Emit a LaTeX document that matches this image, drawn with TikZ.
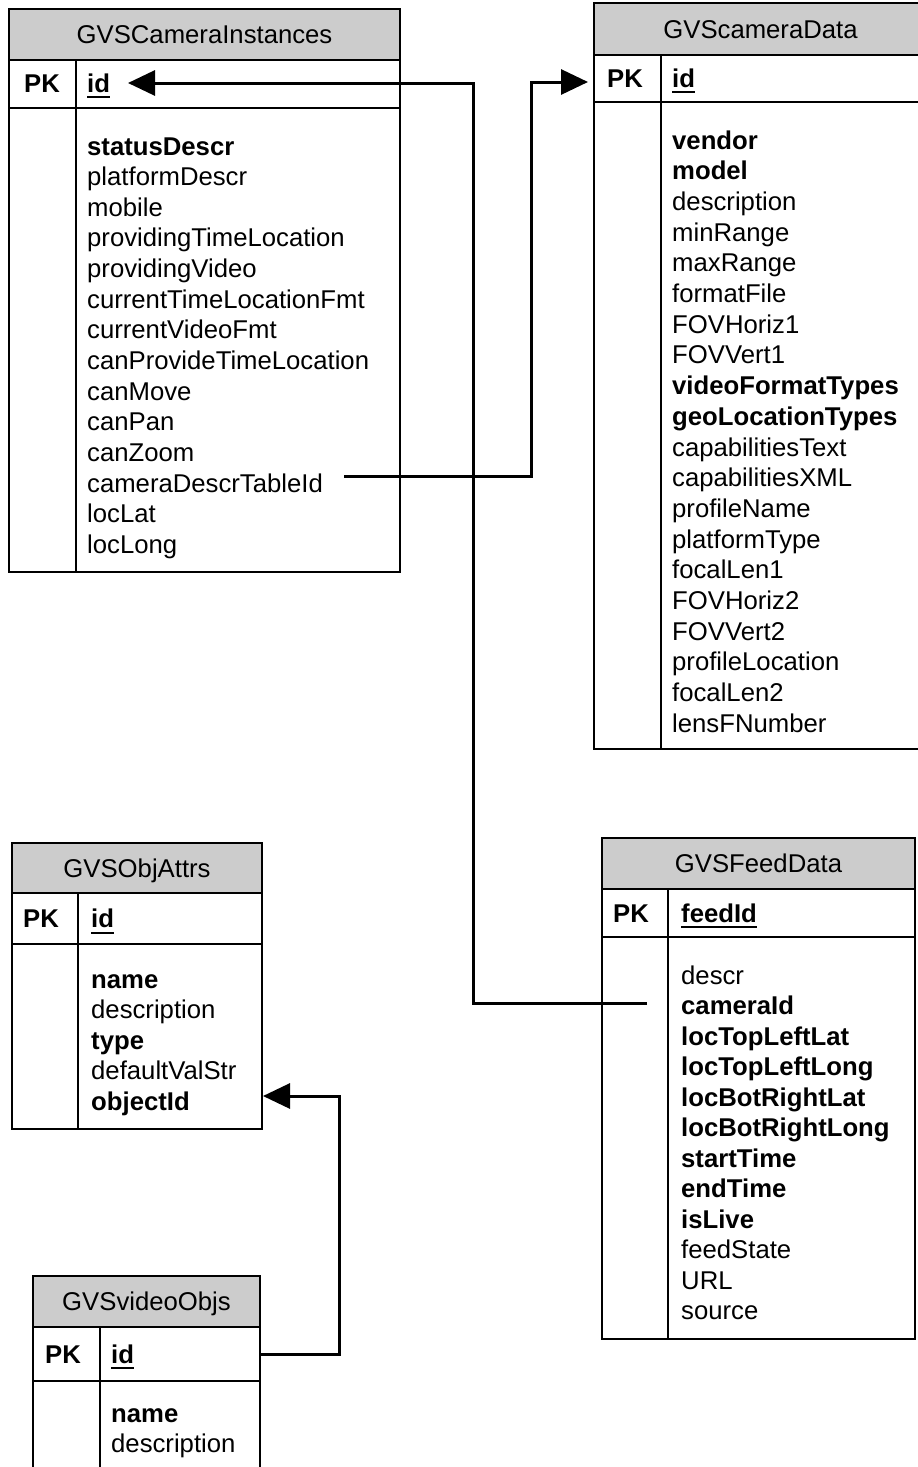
\documentclass[tikz,border=0pt]{standalone}
\usepackage{fontspec}
\setmainfont{Liberation Sans}
\usetikzlibrary{arrows.meta}
\definecolor{hdrgray}{RGB}{204,204,204}
\newcommand\ulkey[1]{\setbox0\hbox{\bfseries #1}\rlap{\rule[-6pt]{\wd0}{2pt}}\box0}
\begin{document}
\begin{tikzpicture}[x=1pt,y=-1pt,
  tbl/.style={draw=black,line width=1.5pt},
  hdr/.style={draw=black,line width=1.5pt,fill=hdrgray,inner sep=0pt,text height=18.5pt,text depth=0pt,font=\fontsize{25.7}{30}\selectfont},
  txt/.style={anchor=base west,inner sep=0pt,font=\fontsize{25.7}{30}\selectfont},
  conn/.style={draw=black,line width=3pt},
  tipped/.style={-{Triangle[length=27pt,width=25pt]}}]
\useasboundingbox (0,0) rectangle (918,1467);
\fill[white] (0,0) rectangle (918,1467);

% ---------- GVSCameraInstances ----------
\node[hdr,minimum width=391pt,minimum height=51pt] (ciH) at (204.5,34.5) {GVSCameraInstances};
\draw[tbl] (9,60) rectangle (400,572);
\draw[tbl] (9,108) -- (400,108);
\draw[tbl] (76,60) -- (76,572);
\node[txt] (ciPK) at (24,92) {\bfseries PK};
\node[txt] (ciId) at (87,92) {\ulkey{id}};
\foreach \t [count=\i from 0] in {\textbf{statusDescr},platformDescr,mobile,providingTimeLocation,providingVideo,currentTimeLocationFmt,currentVideoFmt,canProvideTimeLocation,canMove,canPan,canZoom,cameraDescrTableId,locLat,locLong}
  \node[txt] (ci\i) at (87,{155+\i*30.65}) {\t};

% ---------- GVScameraData ----------
\node[hdr,minimum width=333pt,minimum height=52pt] (cdH) at (760.5,29) {GVScameraData};
\draw[tbl] (594,55) rectangle (927,749);
\draw[tbl] (594,102) -- (927,102);
\draw[tbl] (661,55) -- (661,749);
\node[txt] (cdPK) at (607,87) {\bfseries PK};
\node[txt] (cdId) at (672,87) {\ulkey{id}};
\foreach \t [count=\i from 0] in {\textbf{vendor},\textbf{model},description,minRange,maxRange,formatFile,FOVHoriz1,FOVVert1,\textbf{videoFormatTypes},\textbf{geoLocationTypes},capabilitiesText,capabilitiesXML,profileName,platformType,focalLen1,FOVHoriz2,FOVVert2,profileLocation,focalLen2,lensFNumber}
  \node[txt] (cd\i) at (672,{149+\i*30.7}) {\t};

% ---------- GVSObjAttrs ----------
\node[hdr,minimum width=250pt,minimum height=50pt] (oaH) at (137,868) {GVSObjAttrs};
\draw[tbl] (12,893) rectangle (262,1129);
\draw[tbl] (12,944) -- (262,944);
\draw[tbl] (78,893) -- (78,1129);
\node[txt] (oaPK) at (23,927.5) {\bfseries PK};
\node[txt] (oaId) at (91,927.5) {\ulkey{id}};
\foreach \t [count=\i from 0] in {\textbf{name},description,\textbf{type},defaultValStr,\textbf{objectId}}
  \node[txt] (oa\i) at (91,{988+\i*30.5}) {\t};

% ---------- GVSvideoObjs ----------
\node[hdr,minimum width=227pt,minimum height=51pt] (voH) at (146.5,1301.5) {GVSvideoObjs};
\draw[tbl] (33,1327) -- (260,1327);
\draw[tbl] (33,1381) -- (260,1381);
\draw[tbl] (33,1327) -- (33,1480);
\draw[tbl] (260,1327) -- (260,1480);
\draw[tbl] (100,1327) -- (100,1480);
\node[txt] (voPK) at (45,1363) {\bfseries PK};
\node[txt] (voId) at (111,1363) {\ulkey{id}};
\node[txt] (vo0) at (111,1422) {\textbf{name}};
\node[txt] (vo1) at (111,1452) {description};

% ---------- GVSFeedData ----------
\node[hdr,minimum width=313pt,minimum height=51pt] (fdH) at (758.5,863.5) {GVSFeedData};
\draw[tbl] (602,889) rectangle (915,1339);
\draw[tbl] (602,937) -- (915,937);
\draw[tbl] (668,889) -- (668,1339);
\node[txt] (fdPK) at (613,922) {\bfseries PK};
\node[txt] (fdId) at (681,922) {\ulkey{feedId}};
\foreach \t [count=\i from 0] in {descr,\textbf{cameraId},\textbf{locTopLeftLat},\textbf{locTopLeftLong},\textbf{locBotRightLat},\textbf{locBotRightLong},\textbf{startTime},\textbf{endTime},\textbf{isLive},feedState,URL,source}
  \node[txt] (fd\i) at (681,{984+\i*30.5}) {\t};

% ---------- connectors ----------
\coordinate (fdCamEnd) at (647,1003);
\coordinate (ciIdBend) at (473,83);
\coordinate (ciIdTip) at (128,83);
\draw[conn,tipped] (fdCamEnd) -| (ciIdBend) -- (ciIdTip);

\coordinate (ciCamEnd) at (344,476);
\coordinate (cdIdBend) at (531,82);
\coordinate (cdIdTip) at (588,82);
\draw[conn,tipped] (ciCamEnd) -| (cdIdBend) -- (cdIdTip);

\coordinate (voIdEnd) at (260,1354);
\coordinate (oaObjBend) at (339,1096);
\coordinate (oaObjTip) at (263,1096);
\draw[conn,tipped] (voIdEnd) -| (oaObjBend) -- (oaObjTip);
\end{tikzpicture}
\end{document}
